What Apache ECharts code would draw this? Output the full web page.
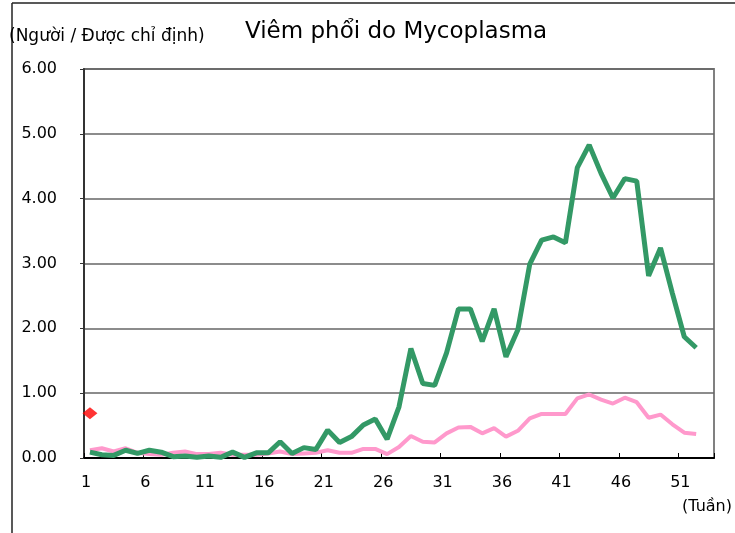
<!DOCTYPE html>
<html>
<head>
<meta charset="utf-8">
<script src="https://cdn.jsdelivr.net/npm/echarts@6/dist/echarts.min.js"></script>
<style>
  html,body{margin:0;padding:0;background:#fff;}
  #chart{width:735px;height:533px;}
</style>
</head>
<body>
<div id="chart"></div>
<script>
  // số ca theo tuần (tuần 1..52)
  var weekLabels = ['1','6','11','16','21','26','31','36','41','46','51'];
  var greenValues = [0.09,0.05,0.04,0.12,0.07,0.12,0.09,0.02,0.03,0.01,
                     0.03,0.01,0.09,0.01,0.08,0.08,0.25,0.07,0.16,0.13,
                     0.43,0.24,0.33,0.51,0.60,0.29,0.79,1.69,1.15,1.12,
                     1.62,2.30,2.30,1.80,2.30,1.56,1.98,2.99,3.36,3.41,
                     3.32,4.48,4.83,4.39,4.01,4.31,4.27,2.81,3.24,2.54,
                     1.87,1.70];
  var pinkValues = [0.12,0.15,0.10,0.15,0.08,0.06,0.05,0.08,0.10,0.06,
                    0.06,0.08,0.05,0.05,0.05,0.07,0.10,0.06,0.07,0.08,
                    0.12,0.08,0.08,0.14,0.14,0.06,0.17,0.34,0.25,0.24,
                    0.38,0.47,0.48,0.38,0.46,0.33,0.42,0.61,0.68,0.68,
                    0.68,0.92,0.98,0.90,0.84,0.93,0.86,0.62,0.67,0.52,
                    0.39,0.37];
  var redWeeks = [1];
  var redValues = [0.69];

  var fontName = 'DejaVu Sans';

  function toPairs(vals){
    return vals.map(function(v, i){ return [i + 1, v]; });
  }

  var myChart = echarts.init(document.getElementById('chart'));
  myChart.setOption({
    animation: false,
    backgroundColor: '#fff',
    textStyle: {fontFamily: fontName},
    title: [{
      text: 'Viêm phổi do Mycoplasma',
      left: 240, top: 16,
      textStyle: {fontSize: 23, fontWeight: 'normal', color: '#000', fontFamily: fontName}
    }, {
      text: '(Người / Được chỉ định)',
      left: 4, top: 23,
      textStyle: {fontSize: 17, fontWeight: 'normal', color: '#000', fontFamily: fontName}
    }],
    grid: {
      left: 84, right: 21, top: 69, bottom: 75,
      show: true, borderColor: '#808080', borderWidth: 2
    },
    xAxis: {
      type: 'value',
      min: 0.5, max: 53.5, interval: 5,
      axisLine: {lineStyle: {color: '#000', width: 2}},
      axisTick: {inside: true, length: 5, lineStyle: {color: '#000'}},
      splitLine: {show: false},
      axisLabel: {
        margin: 17, fontSize: 16, color: '#000', padding: [0, 0, 0, 4],
        formatter: function(v){
          var s = String(Math.round(v + 0.5));
          return weekLabels.indexOf(s) >= 0 ? s : '';
        }
      }
    },
    yAxis: {
      type: 'value',
      min: 0, max: 6, interval: 1,
      axisLine: {show: true, lineStyle: {color: '#333', width: 2}},
      axisTick: {show: true, length: 4, lineStyle: {color: '#333'}},
      splitLine: {lineStyle: {color: '#666', width: 1.5}},
      axisLabel: {
        margin: 27, fontSize: 16, color: '#000',
        formatter: function(v){ return v.toFixed(2); }
      }
    },
    series: [{
      name: 'pink',
      type: 'line',
      data: toPairs(pinkValues),
      symbol: 'none',
      lineStyle: {color: '#ff99cc', width: 4},
      z: 2
    }, {
      name: 'green',
      type: 'line',
      data: toPairs(greenValues),
      symbol: 'none',
      lineStyle: {color: '#339966', width: 5},
      z: 3
    }, {
      name: 'red',
      type: 'scatter',
      data: redWeeks.map(function(w, i){ return [w, redValues[i]]; }),
      symbol: 'diamond',
      symbolSize: [15, 12],
      itemStyle: {color: '#ff0000'},
      z: 4
    }],
    graphic: [{
      type: 'line',
      shape: {x1: 12, y1: 3, x2: 12, y2: 533},
      style: {stroke: '#222', lineWidth: 1.5}
    }, {
      type: 'line',
      shape: {x1: 12, y1: 3, x2: 735, y2: 3},
      style: {stroke: '#222', lineWidth: 1.5}
    }, {
      type: 'text',
      right: 3, top: 499,
      style: {text: '(Tuần)', fontSize: 16, fill: '#000', fontFamily: fontName}
    }]
  });
</script>
</body>
</html>
